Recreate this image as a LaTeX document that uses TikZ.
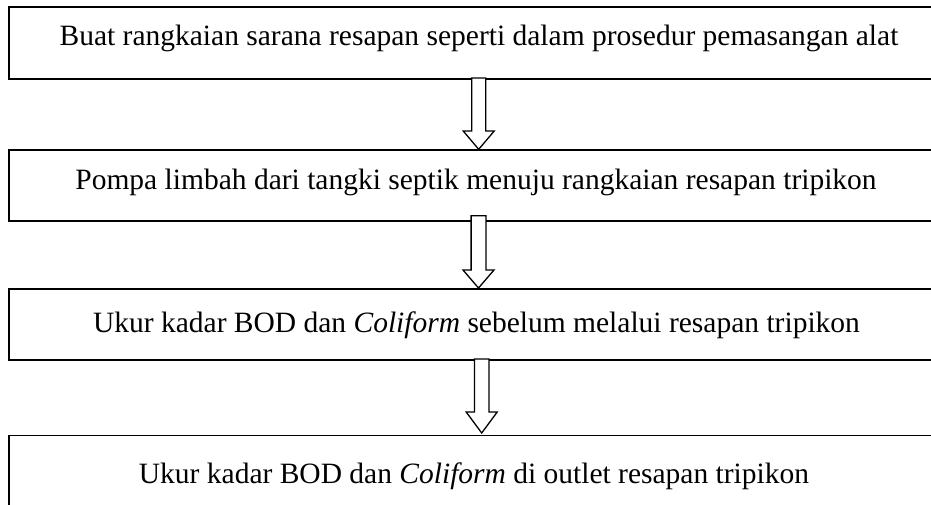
\documentclass[tikz,border=0pt]{standalone}
\usepackage{fontspec}
\setmainfont{Liberation Serif}
\begin{document}
\begin{tikzpicture}[x=1pt,y=-1pt,
  box/.style={draw, line width=1.7pt, rectangle, inner sep=0pt, anchor=north west, minimum width=938pt},
  blk/.style={draw, line width=1.3pt, fill=white, line join=miter},
  lbl/.style={anchor=base, inner sep=0pt, font=\fontsize{29.5}{34}\selectfont}]
\useasboundingbox (0,0) rectangle (931,504);
\clip (0,0) rectangle (931,504);
% boxes
\node[box, minimum height=72pt] (b1) at (8,6) {};
\node[box, minimum height=70.7pt] (b2) at (8,149.3) {};
\node[box, minimum height=71pt] (b3) at (8,288) {};
\node[box, minimum height=80pt] (b4) at (8,434.5) {};
% texts
\node[lbl] (t1) at (479,45) {Buat rangkaian sarana resapan seperti dalam prosedur pemasangan alat};
\node[lbl] (t2) at (476,189) {Pompa limbah dari tangki septik menuju rangkaian resapan tripikon};
\node[lbl] (t3) at (476.5,332) {Ukur kadar BOD dan \textit{Coliform} sebelum melalui resapan tripikon};
\node[lbl] (t4) at (474,483) {Ukur kadar BOD dan \textit{Coliform} di outlet resapan tripikon};
% arrow anchor points
\coordinate (a1t) at (478.7,78);    \coordinate (a1h) at (478.7,131); \coordinate (a1e) at (478.7,149.3);
\coordinate (a2t) at (478.5,215.7); \coordinate (a2h) at (478.5,270); \coordinate (a2e) at (478.5,288);
\coordinate (a3t) at (481.7,359);   \coordinate (a3h) at (481.7,412); \coordinate (a3e) at (481.7,433);
\foreach \a/\w in {a1/7, a2/7.4, a3/7.3}{
  \draw[blk] ([xshift=-\w pt]\a t) -- ([xshift=-\w pt]\a h) -- ([xshift=-15.5pt]\a h) -- (\a e)
    -- ([xshift=15.5pt]\a h) -- ([xshift=\w pt]\a h) -- ([xshift=\w pt]\a t) -- cycle;
}
\end{tikzpicture}
\end{document}
